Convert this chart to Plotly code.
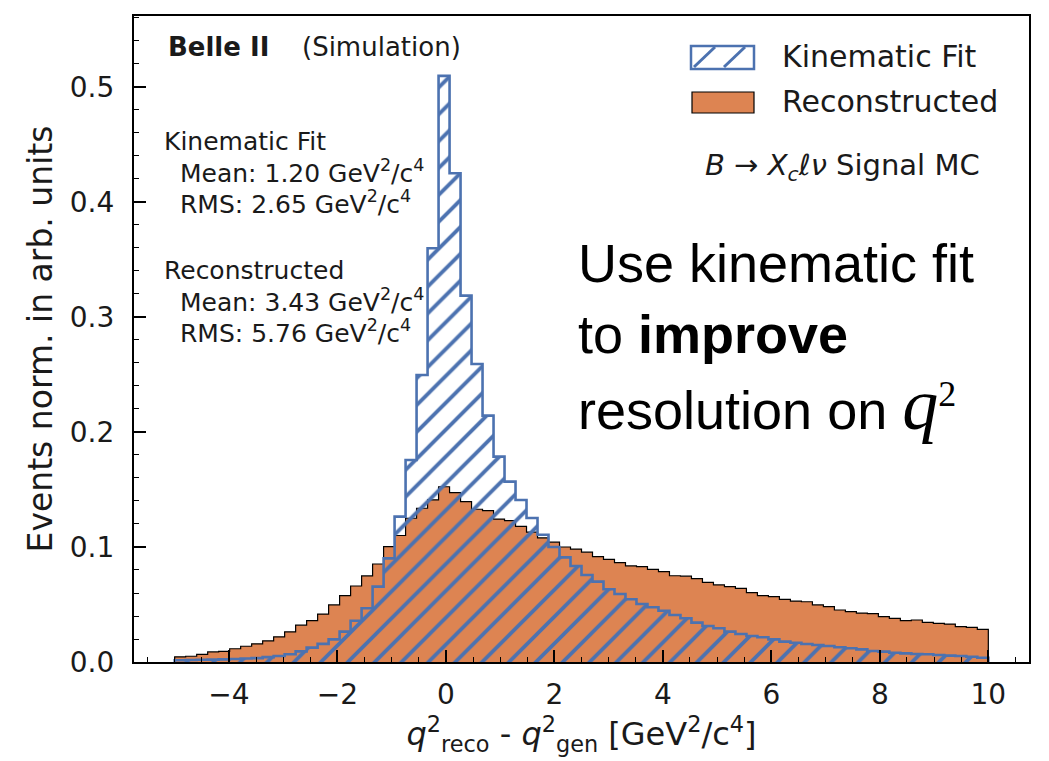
import numpy as np
import plotly.graph_objects as go

# ---------------- data ----------------
bin_edges = np.linspace(-5, 10, 75)   # 74 bins

reco = [0.0045, 0.0050, 0.0067, 0.0088, 0.0093, 0.0115, 0.0137, 0.0158, 0.0184, 0.0219,
        0.0262, 0.0320, 0.0360, 0.0417, 0.0496, 0.0577, 0.0661, 0.0748, 0.0852, 0.1003,
        0.1100, 0.1250, 0.1337, 0.1410, 0.1524, 0.1472, 0.1394, 0.1328, 0.1316, 0.1243,
        0.1229, 0.1180, 0.1130, 0.1080, 0.1042, 0.1000, 0.0982, 0.0955, 0.0916, 0.0893,
        0.0864, 0.0835, 0.0829, 0.0806, 0.0785, 0.0750, 0.0746, 0.0725, 0.0693, 0.0670,
        0.0655, 0.0641, 0.0603, 0.0577, 0.0568, 0.0545, 0.0530, 0.0524, 0.0496, 0.0481,
        0.0452, 0.0438, 0.0425, 0.0421, 0.0394, 0.0380, 0.0359, 0.0365, 0.0345, 0.0336,
        0.0330, 0.0307, 0.0301, 0.0284]

kinfit = [0.0015, 0.0017, 0.0019, 0.0021, 0.0023, 0.0026, 0.0030, 0.0034, 0.0042, 0.0052,
          0.0068, 0.0092, 0.0125, 0.0158, 0.0197, 0.0264, 0.0359, 0.0467, 0.0655, 0.0901,
          0.1264, 0.1757, 0.2496, 0.3597, 0.5096, 0.4250, 0.3186, 0.2591, 0.2142, 0.1786,
          0.1568, 0.1409, 0.1252, 0.1107, 0.1000, 0.0910, 0.0835, 0.0757, 0.0699, 0.0632,
          0.0591, 0.0545, 0.0504, 0.0476, 0.0446, 0.0409, 0.0380, 0.0342, 0.0313, 0.0293,
          0.0264, 0.0243, 0.0226, 0.0215, 0.0197, 0.0177, 0.0168, 0.0157, 0.0148, 0.0139,
          0.0128, 0.0119, 0.0110, 0.0096, 0.0090, 0.0081, 0.0075, 0.0070, 0.0067, 0.0061,
          0.0055, 0.0052, 0.0046, 0.0037]

series_names = ["Kinematic Fit", "Reconstructed"]
stats_kin = ("1.20", "2.65")
stats_reco = ("3.43", "5.76")
x_ticks = [-4, -2, 0, 2, 4, 6, 8, 10]
y_ticks = [0.0, 0.1, 0.2, 0.3, 0.4, 0.5]

ORANGE = "#DD8452"
BLUE = "#4C72B0"
FONT = "DejaVu Sans"


def step_xy(edges, vals):
    xs = [edges[0]] + list(edges) + [edges[-1]]
    ys = [0.0] + list(vals) + [vals[-1]] + [0.0]
    return xs, ys


fig = go.Figure()

xr, yr = step_xy(bin_edges, reco)
fig.add_trace(go.Scatter(x=xr, y=yr, mode="lines", name=series_names[1],
                         line=dict(shape="hv", color="black", width=1.2),
                         fill="tozeroy", fillcolor=ORANGE, showlegend=False))

xk, yk = step_xy(bin_edges, kinfit)
fig.add_trace(go.Scatter(x=xk, y=yk, mode="lines", name=series_names[0],
                         line=dict(shape="hv", color=BLUE, width=2.6),
                         fill="tozeroy", fillcolor="rgba(0,0,0,0)",
                         fillpattern=dict(shape="/", fgcolor=BLUE, bgcolor="rgba(0,0,0,0)",
                                          fgopacity=1, fillmode="replace",
                                          size=19, solidity=0.2),
                         showlegend=False))

# ---------------- layout helpers ----------------
W, H = 1049, 761
L, R, T, B = 134, 1029, 16, 662


def px(x):
    return (x - L) / (R - L)


def py(y):
    return (B - y) / (B - T)


ann = []


def text(x, y, s, size, anchor="left", family=FONT, color="#1a1a1a"):
    ann.append(dict(x=px(x), y=py(y), xref="paper", yref="paper", text=s,
                    showarrow=False, xanchor=anchor, yanchor="middle",
                    font=dict(family=family, size=size, color=color)))


GEV = "GeV<sup>2</sup>/c<sup>4</sup>"
text(166, 47, "<b>Belle II</b>", 26)
text(300, 47, "(Simulation)", 26)
text(162, 141, "Kinematic Fit", 25)
text(178, 171, f"Mean: {stats_kin[0]} {GEV}", 25)
text(178, 202, f"RMS: {stats_kin[1]} {GEV}", 25)
text(162, 270, "Reconstructed", 25)
text(178, 300, f"Mean: {stats_reco[0]} {GEV}", 25)
text(178, 331, f"RMS: {stats_reco[1]} {GEV}", 25)

# legend
text(780, 57, series_names[0], 30)
text(780, 102, series_names[1], 30)
text(982, 167, "<i>B</i> → <i>X</i><sub><i>c</i></sub><i>ℓν</i> Signal MC", 29, anchor="right")

# big message
BIG = "Liberation Sans, Arial, sans-serif"
text(576, 263, "Use kinematic fit", 54, family=BIG, color="black")
text(576, 334, "to <b>improve</b>", 54, family=BIG, color="black")
text(576, 405, "resolution on <span style=\"font-family:'Liberation Serif';font-size:72px\"><i>q</i></span>"
     "<sup><span style=\"font-family:'Liberation Serif';font-size:36px\">2</span></sup>",
     54, family=BIG, color="black")

shapes = []
# legend handle: hatched box
shapes.append(dict(type="rect", xref="paper", yref="paper", x0=px(691), x1=px(754),
                   y0=py(69), y1=py(46), line=dict(color=BLUE, width=2.5),
                   fillcolor="rgba(0,0,0,0)"))
for x0 in (694, 724):
    shapes.append(dict(type="line", xref="paper", yref="paper", x0=px(x0), x1=px(x0 + 21),
                       y0=py(67), y1=py(47), line=dict(color=BLUE, width=3)))
# legend handle: reco box
shapes.append(dict(type="rect", xref="paper", yref="paper", x0=px(692), x1=px(754),
                   y0=py(113), y1=py(92), line=dict(color="black", width=1.2),
                   fillcolor=ORANGE))

fig.update_layout(
    width=W, height=H,
    margin=dict(l=L, r=W - R, t=T, b=H - B),
    paper_bgcolor="white", plot_bgcolor="white",
    font=dict(family=FONT, size=28, color="#1a1a1a"),
    annotations=ann, shapes=shapes, showlegend=False,
)

fig.update_xaxes(
    range=[-5.75, 10.75], tickvals=x_ticks, ticks="inside", ticklen=12, tickwidth=1.5,
    tickcolor="black", showline=True, linecolor="black", linewidth=2.2, mirror=True,
    showgrid=False, zeroline=False, tickfont=dict(size=28), ticklabelstandoff=6,
    minor=dict(dtick=0.5, ticks="inside", ticklen=5, tickwidth=1.2, tickcolor="black", showgrid=False),
    title=dict(text="<i>q</i><sup>2</sup><sub>reco</sub> - <i>q</i><sup>2</sup><sub>gen</sub> [GeV<sup>2</sup>/c<sup>4</sup>]",
               font=dict(size=32), standoff=8),
)
fig.update_yaxes(
    range=[0, 0.5617], tickvals=y_ticks, tickformat=".1f", ticks="inside", ticklen=12,
    tickwidth=1.5, tickcolor="black", showline=True, linecolor="black", linewidth=2.2,
    mirror=True, showgrid=False, zeroline=False, tickfont=dict(size=28), ticklabelstandoff=12,
    minor=dict(dtick=0.02, ticks="inside", ticklen=5, tickwidth=1.2, tickcolor="black", showgrid=False),
    title=dict(text="Events norm. in arb. units", font=dict(size=33), standoff=7),
)

fig.write_html("out.html")
